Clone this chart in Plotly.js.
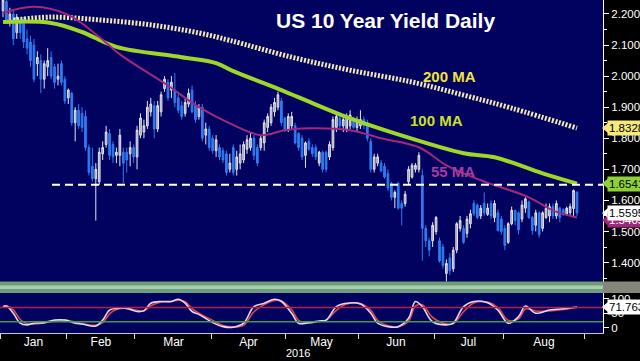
<!DOCTYPE html>
<html>
<head>
<meta charset="utf-8">
<script src="https://cdn.plot.ly/plotly-3.0.1.min.js"></script>
<style>html,body{margin:0;padding:0;background:#000;}#chart{width:640px;height:361px;}</style>
</head>
<body>
<div id="chart"></div>
<script>
// ---- Daily US 10Y yield candles (trading-day index 0..167, Jan–Aug 2016) ----
const openV = [2.21,2.24,2.18,2.20,2.14,2.18,2.17,2.12,2.11,2.10,2.04,2.05,1.99,2.03,2.06,2.03,1.99,2.04,1.99,1.93,
1.945,1.85,1.89,1.88,1.87,1.77,1.71,1.67,1.66,1.75,1.78,1.815,1.78,1.745,1.745,1.755,1.755,1.75,1.77,1.74,
1.81,1.82,1.84,1.885,1.905,1.83,1.885,1.96,1.98,1.955,1.955,1.93,1.905,1.88,1.91,1.955,1.905,1.87,1.90,1.81,
1.83,1.80,1.76,1.77,1.76,1.75,1.70,1.77,1.70,1.72,1.73,1.765,1.77,1.80,1.77,1.77,1.785,1.835,1.85,1.885,
1.90,1.92,1.865,1.83,1.84,1.84,1.815,1.80,1.745,1.79,1.77,1.77,1.72,1.755,1.755,1.74,1.77,1.835,1.865,1.84,
1.83,1.84,1.86,1.835,1.84,1.86,1.85,1.79,1.70,1.72,1.72,1.71,1.687,1.655,1.61,1.655,1.59,1.59,1.66,1.675,
1.70,1.70,1.68,1.51,1.47,1.47,1.50,1.47,1.45,1.365,1.415,1.38,1.44,1.51,1.51,1.494,1.525,1.59,1.585,1.55,
1.59,1.555,1.59,1.545,1.56,1.54,1.51,1.465,1.525,1.568,1.56,1.54,1.575,1.595,1.545,1.52,1.56,1.51,1.545,1.55,
1.58,1.55,1.575,1.57,1.555,1.56,1.574,1.626];
const highV = [2.25,2.25,2.22,2.21,2.20,2.19,2.19,2.15,2.13,2.12,2.08,2.07,2.05,2.09,2.08,2.04,2.04,2.05,2.00,1.96,
1.95,1.90,1.91,1.90,1.89,1.78,1.77,1.72,1.77,1.79,1.84,1.83,1.79,1.77,1.83,1.77,1.77,1.79,1.78,1.84,
1.88,1.86,1.92,1.93,1.92,1.92,1.95,2.00,1.99,2.00,2.01,1.95,1.92,1.93,1.96,1.97,1.92,1.91,1.91,1.85,
1.84,1.81,1.81,1.78,1.77,1.76,1.75,1.78,1.76,1.78,1.79,1.81,1.82,1.81,1.78,1.81,1.86,1.88,1.91,1.93,
1.95,1.93,1.87,1.88,1.885,1.85,1.82,1.81,1.79,1.80,1.78,1.78,1.76,1.76,1.76,1.79,1.87,1.88,1.88,1.87,
1.88,1.89,1.87,1.87,1.89,1.87,1.86,1.80,1.75,1.75,1.73,1.72,1.70,1.66,1.632,1.66,1.60,1.63,1.71,1.72,
1.72,1.755,1.70,1.52,1.48,1.53,1.55,1.48,1.46,1.41,1.43,1.45,1.53,1.55,1.52,1.55,1.57,1.60,1.59,1.585,
1.626,1.59,1.60,1.60,1.57,1.55,1.52,1.53,1.58,1.57,1.565,1.60,1.61,1.60,1.55,1.57,1.565,1.565,1.59,1.59,
1.59,1.60,1.58,1.575,1.58,1.59,1.635,1.63];
const lowV = [2.19,2.17,2.16,2.10,2.12,2.12,2.09,2.07,2.03,1.98,2.00,1.945,1.96,2.00,1.99,1.96,1.97,1.97,1.91,1.91,
1.84,1.79,1.83,1.82,1.76,1.68,1.66,1.535,1.65,1.73,1.77,1.73,1.72,1.72,1.71,1.655,1.69,1.71,1.72,1.70,
1.80,1.80,1.83,1.87,1.80,1.82,1.87,1.95,1.92,1.93,1.90,1.88,1.86,1.87,1.90,1.88,1.85,1.86,1.79,1.78,
1.76,1.75,1.74,1.73,1.72,1.68,1.69,1.68,1.68,1.70,1.72,1.75,1.76,1.73,1.71,1.76,1.76,1.82,1.84,1.87,
1.89,1.84,1.82,1.82,1.83,1.78,1.76,1.73,1.705,1.76,1.74,1.73,1.71,1.69,1.69,1.73,1.76,1.82,1.83,1.82,
1.82,1.83,1.83,1.82,1.83,1.83,1.79,1.69,1.69,1.71,1.69,1.67,1.63,1.60,1.575,1.57,1.52,1.58,1.65,1.67,
1.69,1.69,1.406,1.45,1.42,1.45,1.49,1.40,1.38,1.33,1.36,1.37,1.43,1.50,1.46,1.48,1.51,1.55,1.54,1.54,
1.55,1.55,1.54,1.53,1.50,1.49,1.44,1.46,1.52,1.52,1.49,1.53,1.56,1.54,1.49,1.50,1.48,1.50,1.54,1.53,
1.54,1.54,1.53,1.55,1.55,1.55,1.545,1.55];
const closeV = [2.245,2.18,2.20,2.12,2.19,2.14,2.11,2.09,2.05,1.99,2.06,1.99,2.04,2.05,2.00,1.98,2.00,1.98,1.92,1.955,
1.85,1.89,1.84,1.835,1.77,1.69,1.67,1.70,1.755,1.77,1.82,1.745,1.74,1.755,1.81,1.72,1.73,1.77,1.74,1.826,
1.865,1.84,1.90,1.91,1.83,1.905,1.94,1.99,1.93,1.98,1.915,1.89,1.87,1.915,1.945,1.885,1.86,1.90,1.80,1.83,
1.77,1.76,1.795,1.74,1.73,1.69,1.72,1.69,1.74,1.75,1.78,1.795,1.80,1.745,1.72,1.80,1.85,1.87,1.90,1.915,
1.94,1.85,1.825,1.87,1.87,1.785,1.77,1.74,1.785,1.765,1.75,1.74,1.755,1.70,1.70,1.78,1.86,1.87,1.84,1.86,
1.87,1.875,1.835,1.86,1.86,1.84,1.80,1.70,1.74,1.74,1.695,1.675,1.64,1.61,1.626,1.575,1.575,1.62,1.70,1.713,
1.713,1.745,1.51,1.47,1.44,1.52,1.545,1.405,1.39,1.397,1.374,1.44,1.525,1.535,1.465,1.54,1.557,1.557,1.545,1.575,
1.56,1.575,1.55,1.59,1.503,1.50,1.455,1.525,1.568,1.535,1.505,1.585,1.605,1.545,1.503,1.56,1.49,1.56,1.575,1.58,
1.55,1.59,1.545,1.555,1.575,1.58,1.632,1.5595];

// ---- Moving averages (day index, yield) ----
const ma200Idx = [3,14,28,43,57,66,84,101,119,134,148,167];
const ma200Val = [2.18,2.19,2.181,2.165,2.139,2.115,2.061,2.019,1.981,1.939,1.897,1.8328];
const ma100Idx = [0,14,23,33,52,62,67,81,90,100,114,134,143,157,167];
const ma100Val = [2.174,2.171,2.142,2.094,2.061,2.042,2.016,1.955,1.913,1.868,1.816,1.752,1.739,1.687,1.6541];
const ma55Idx = [0,9,19,28,34,47,57,66,75,82,89,101,110,121,129,139,153,160,167];
const ma55Val = [2.203,2.223,2.197,2.126,2.07,1.977,1.90,1.848,1.81,1.826,1.832,1.826,1.80,1.771,1.713,1.665,1.61,1.568,1.545];

// ---- Stochastic oscillator (day index, %K, %D) ----
const stochIdx = [0,1,3,5,7,9,12,15,18,21,23,27,29,31,33,36,39,41,43,46,49,51,53,55,57,61,64,67,70,73,76,79,81,84,86,89,92,94,97,100,104,107,109,112,115,118,120,122,125,129,131,134,137,141,144,147,150,152,155,159,164,167];
const stochK = [71,75,50,15,9,15,17,26,26,15,12,5,26,61,67,67,56,59,85,91,91,99,85,56,46,17,3,1,15,73,85,99,91,50,15,17,23,26,73,85,82,50,15,3,3,32,91,73,20,9,15,73,91,87,61,15,38,75,50,61,67,71.763];
const stochD = [75,76,62,28,13,12,16,23,26,19,13,8,17,48,63,67,60,58,76,89,91,96,90,66,50,25,7,2,8,55,80,95,94,62,25,16,21,25,60,82,84,60,25,6,3,22,75,80,35,12,13,55,86,89,70,25,30,65,58,58,65,70];

// ---- Axis labels ----
const monthBounds = [-0.87,18.6,38.4,60.8,82.05,103.3,125.4,145.5,169.3];
const monthNames = ['Jan','Feb','Mar','Apr','May','Jun','Jul','Aug'];
const yTicks = [1.4,1.5,1.6,1.7,1.8,1.9,2.0,2.1,2.2];
const yMinor = [1.35,1.45,1.55,1.65,1.75,1.85,1.95,2.05,2.15,2.25];
const stochTicks = [0,50,100];
const levelLine = 1.65;
const obLevel = 70, osLevel = 20;
const tags = [
  {v:1.8328, t:'1.8328', bg:'#f3e97c', fc:'#000'},
  {v:1.6541, t:'1.6541', bg:'#8fd13a', fc:'#000'},
  {v:1.536,  t:'1.5405', bg:'#a0287a', fc:'#fff'},
  {v:1.5595, t:'1.5595', bg:'#ffffff', fc:'#000'}
];

const FONT = 'Arial, "Liberation Sans", sans-serif';
const xIdx = openV.map((_, i) => i);
const monthMid = monthNames.map((_, k) => (monthBounds[k] + monthBounds[k+1]) / 2);
const xRange = [-0.873, 174.57];

const traces = [
  {type:'candlestick', x:xIdx, open:openV, high:highV, low:lowV, close:closeV, xaxis:'x', yaxis:'y',
   increasing:{line:{color:'#e4e4ee', width:1}, fillcolor:'#9c9cac'},
   decreasing:{line:{color:'#2f7cf0', width:1}, fillcolor:'#2f7cf0'},
   whiskerwidth:0, hoverinfo:'skip', showlegend:false},
  {type:'scatter', mode:'lines', x:ma200Idx, y:ma200Val, line:{color:'#f2eab2', width:5, dash:'2px,1.6px', shape:'spline'}, hoverinfo:'skip', showlegend:false},
  {type:'scatter', mode:'lines', x:ma100Idx, y:ma100Val, line:{color:'#9ed62a', width:4, shape:'spline'}, hoverinfo:'skip', showlegend:false},
  {type:'scatter', mode:'lines', x:ma55Idx, y:ma55Val, line:{color:'#a3287c', width:2, shape:'spline'}, hoverinfo:'skip', showlegend:false},
  {type:'scatter', mode:'lines', x:stochIdx, y:stochD, xaxis:'x', yaxis:'y2', line:{color:'#e04848', width:1.6, shape:'spline'}, hoverinfo:'skip', showlegend:false},
  {type:'scatter', mode:'lines', x:stochIdx, y:stochK, xaxis:'x', yaxis:'y2', line:{color:'#e2d6f2', width:1.6, shape:'spline'}, hoverinfo:'skip', showlegend:false},
  {type:'scatter', mode:'lines', x:[0], y:[0], xaxis:'x2', yaxis:'y2', line:{width:0}, opacity:0, hoverinfo:'skip', showlegend:false}
];

const W = 603, H = 361;
const px2paperY = p => (H - p) / H;
const dy = 5 / 310;

const shapes = [
  {type:'line', xref:'paper', yref:'y', x0:52/W, x1:1, y0:levelLine, y1:levelLine, line:{color:'#ffffff', width:2, dash:'8px,5px'}},
  {type:'line', xref:'paper', yref:'y2', x0:0, x1:1, y0:obLevel, y1:obLevel, line:{color:'#b3204c', width:1.5}},
  {type:'line', xref:'paper', yref:'y2', x0:0, x1:1, y0:osLevel, y1:osLevel, line:{color:'#38a048', width:1.5}},
  {type:'rect', xref:'paper', yref:'paper', x0:0, x1:1, y0:px2paperY(293), y1:px2paperY(281.5), fillcolor:'#6f9c7d', line:{width:0}, layer:'above'},
  {type:'rect', xref:'paper', yref:'paper', x0:0, x1:1, y0:px2paperY(289), y1:px2paperY(285.5), fillcolor:'#a7cdab', line:{width:0}, layer:'above'},
  {type:'rect', xref:'paper', yref:'paper', x0:1, x1:640/W, y0:px2paperY(293), y1:px2paperY(281.5), fillcolor:'#85857a', line:{width:0}, layer:'above'}
];
tags.forEach(g => {
  shapes.push({type:'path', xref:'paper', yref:'y', fillcolor:g.bg, line:{width:0},
    path:`M ${602/W} ${g.v} L ${608/W} ${g.v+dy} L ${608/W} ${g.v-dy} Z`});
});
// stochastic tag arrow
const dy2 = 5 / 0.285;
shapes.push({type:'path', xref:'paper', yref:'y2', fillcolor:'#ffffff', line:{width:0},
  path:`M ${602/W} ${stochK[stochK.length-1]} L ${608/W} ${stochK[stochK.length-1]+dy2} L ${608/W} ${stochK[stochK.length-1]-dy2} Z`});

const annotations = [
  {xref:'paper', yref:'paper', x:385/W, y:px2paperY(20), text:'<b>US 10 Year Yield Daily</b>', showarrow:false, font:{family:FONT, size:21, color:'#ffffff'}, xanchor:'center', yanchor:'middle'},
  {xref:'paper', yref:'paper', x:449/W, y:px2paperY(77), text:'<b>200 MA</b>', showarrow:false, font:{family:FONT, size:15, color:'#f2e43a'}, xanchor:'center', yanchor:'middle'},
  {xref:'paper', yref:'paper', x:436/W, y:px2paperY(120), text:'<b>100 MA</b>', showarrow:false, font:{family:FONT, size:15, color:'#c9e02c'}, xanchor:'center', yanchor:'middle'},
  {xref:'paper', yref:'paper', x:453/W, y:px2paperY(171), text:'<b>55 MA</b>', showarrow:false, font:{family:FONT, size:15, color:'#a43d9e'}, xanchor:'center', yanchor:'middle'},
  {xref:'x', yref:'paper', x:85.8, y:px2paperY(353), text:'2016', showarrow:false, font:{family:FONT, size:11, color:'#ffffff'}, xanchor:'center', yanchor:'middle'}
];
tags.forEach(g => {
  annotations.push({xref:'paper', yref:'y', x:607/W, y:g.v, xanchor:'left', yanchor:'middle', text:g.t, showarrow:false,
    bgcolor:g.bg, borderpad:1, font:{family:FONT, size:11.5, color:g.fc}});
});
annotations.push({xref:'paper', yref:'y2', x:607/W, y:stochK[stochK.length-1], xanchor:'left', yanchor:'middle', text:stochK[stochK.length-1].toFixed(3), showarrow:false,
  bgcolor:'#ffffff', borderpad:1, font:{family:FONT, size:11.5, color:'#000'}});

const layout = {
  width:640, height:361,
  margin:{l:0, r:37, t:0, b:0, pad:0},
  paper_bgcolor:'#000000', plot_bgcolor:'#01025f',
  showlegend:false, dragmode:false,
  font:{family:FONT, color:'#ffffff', size:11},
  xaxis:{range:xRange, domain:[0,1], anchor:'y2', tickvals:monthBounds, ticktext:monthBounds.map(() => ''),
    ticks:'outside', ticklen:5, tickcolor:'#dddddd', showline:true, linecolor:'#c8c8c8', linewidth:1,
    showgrid:false, zeroline:false, rangeslider:{visible:false}, fixedrange:true},
  xaxis2:{range:xRange, overlaying:'x', anchor:'y2', side:'bottom', tickvals:monthMid, ticktext:monthNames,
    ticks:'', showline:false, showgrid:false, zeroline:false, tickfont:{family:FONT, size:12, color:'#ffffff'}, fixedrange:true},
  yaxis:{domain:[px2paperY(281.5), 1], range:[1.339, 2.245], side:'right', anchor:'x',
    tickvals:yTicks, tickformat:'.4f', ticks:'outside', ticklen:5, tickcolor:'#ffffff', tickwidth:1,
    minor:{tickvals:yMinor, ticks:'outside', ticklen:3, tickcolor:'#ffffff'},
    showline:true, linecolor:'#ffffff', linewidth:1, showgrid:false, zeroline:false,
    tickfont:{family:FONT, size:11.5, color:'#ffffff'}, fixedrange:true},
  yaxis2:{domain:[px2paperY(333), px2paperY(293)], range:[-19.3, 120.8], side:'right', anchor:'x',
    tickvals:stochTicks, ticks:'outside', ticklen:5, tickcolor:'#ffffff',
    showline:true, linecolor:'#ffffff', linewidth:1, showgrid:false, zeroline:false,
    tickfont:{family:FONT, size:11.5, color:'#ffffff'}, fixedrange:true},
  shapes:shapes,
  annotations:annotations
};

Plotly.newPlot('chart', traces, layout, {staticPlot:true, displayModeBar:false});
</script>
</body>
</html>
